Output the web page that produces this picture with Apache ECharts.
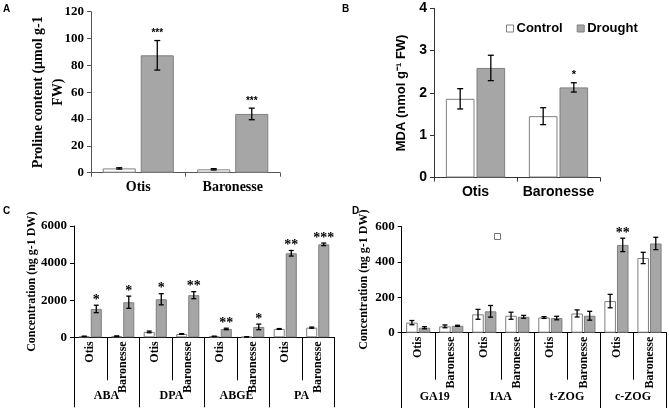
<!DOCTYPE html>
<html>
<head>
<meta charset="utf-8">
<script src="https://cdn.jsdelivr.net/npm/echarts@6/dist/echarts.min.js"></script>
<style>html,body{margin:0;padding:0;background:#fff}#c{width:669px;height:408px}</style>
</head>
<body>
<div id="c"></div>
<script>
// ---- Panel A: proline ----
const aCultivars = ['Otis', 'Baronesse'];
const aControl = [3.2, 2.5];
const aControlErr = [0.5, 0.5];
const aDrought = [87.5, 43.8];
const aDroughtErr = [11, 4.3];
const aSig = ['***', '***'];
const aTicks = [0, 120, 20];

// ---- Panel B: MDA ----
const bCultivars = ['Otis', 'Baronesse'];
const bControl = [1.86, 1.45];
const bControlErr = [0.24, 0.2];
const bDrought = [2.59, 2.13];
const bDroughtErr = [0.3, 0.11];
const bSig = ['', '*'];
const bTicks = [0, 4, 1];

// ---- Panel C: ABA metabolites ----
const cGroups = ['ABA', 'DPA', 'ABGE', 'PA'];
const cSub = ['Otis', 'Baronesse', 'Otis', 'Baronesse', 'Otis', 'Baronesse', 'Otis', 'Baronesse'];
const cControl = [50, 60, 290, 180, 50, 20, 450, 520];
const cControlErr = [10, 15, 45, 20, 10, 5, 20, 30];
const cDrought = [1530, 1890, 2050, 2270, 450, 560, 4530, 5010];
const cDroughtErr = [200, 330, 300, 190, 40, 150, 150, 70];
const cSig = ['*', '*', '*', '**', '**', '*', '**', '***'];
const cTicks = [0, 6000, 2000];

// ---- Panel D: other hormones ----
const dGroups = ['GA19', 'IAA', 't-ZOG', 'c-ZOG'];
const dSub = ['Otis', 'Baronesse', 'Otis', 'Baronesse', 'Otis', 'Baronesse', 'Otis', 'Baronesse'];
const dControl = [57, 36, 104, 96, 86, 109, 179, 423];
const dControlErr = [12, 8, 28, 20, 5, 20, 38, 32];
const dDrought = [28, 39, 121, 90, 83, 96, 497, 505];
const dDroughtErr = [6, 3, 33, 8, 10, 25, 38, 35];
const dSig = ['', '', '', '', '', '', '**', ''];
const dTicks = [0, 600, 200];

const SERIF = '"Liberation Serif","Times New Roman",serif';
const SANS = '"Liberation Sans",Arial,sans-serif';
const CTRL_FILL = '#ffffff', DRT_FILL = '#a6a6a6', BORDER = '#7f7f7f';

function errRenderer(values, errs, sig, side, barPct, gapPct, capHalf, starFont, starGap) {
  return function (params, api) {
    const i = params.dataIndex;
    const v = values[i], e = errs[i];
    const band = api.size([1, 0])[0];
    const bw = band * barPct;
    const off = side * bw * (1 + gapPct) / 2;
    const c = api.coord([i, v]);
    const t = api.coord([i, v + e]);
    const b = api.coord([i, Math.max(0, v - e)]);
    const x = c[0] + off;
    const st = { stroke: '#000', lineWidth: 1.3 };
    const ch = [
      { type: 'line', shape: { x1: x, y1: t[1], x2: x, y2: b[1] }, style: st },
      { type: 'line', shape: { x1: x - capHalf, y1: t[1], x2: x + capHalf, y2: t[1] }, style: st },
      { type: 'line', shape: { x1: x - capHalf, y1: b[1], x2: x + capHalf, y2: b[1] }, style: st }
    ];
    if (sig && sig[i]) {
      ch.push({ type: 'text', style: { text: sig[i], x: x, y: t[1] - starGap, textAlign: 'center', textVerticalAlign: 'bottom', font: starFont, fill: '#000' } });
    }
    return { type: 'group', children: ch };
  };
}

function panelSeries(xi, yi, ctrl, ctrlErr, drt, drtErr, sig, barPct, gapPct, capHalf, starFont, starGap) {
  const bw = (barPct * 100) + '%', bg = (gapPct * 100) + '%';
  return [
    { name: 'Control', type: 'bar', xAxisIndex: xi, yAxisIndex: yi, data: ctrl, barWidth: bw, barGap: bg,
      itemStyle: { color: CTRL_FILL, borderColor: BORDER, borderWidth: 1 }, silent: true, animation: false },
    { name: 'Drought', type: 'bar', xAxisIndex: xi, yAxisIndex: yi, data: drt, barWidth: bw, barGap: bg,
      itemStyle: { color: DRT_FILL, borderColor: BORDER, borderWidth: 1 }, silent: true, animation: false },
    { type: 'custom', xAxisIndex: xi, yAxisIndex: yi, data: ctrl.map((v, i) => [i, v]), z: 5, silent: true, animation: false,
      renderItem: errRenderer(ctrl, ctrlErr, null, -1, barPct, gapPct, capHalf, starFont, starGap) },
    { type: 'custom', xAxisIndex: xi, yAxisIndex: yi, data: drt.map((v, i) => [i, v]), z: 5, silent: true, animation: false,
      renderItem: errRenderer(drt, drtErr, sig, 1, barPct, gapPct, capHalf, starFont, starGap) }
  ];
}

// divider lines of the two-level category axis, placed by the strip grid's category scale
function dividerSeries(xi, yi, sub) {
  return { type: 'custom', xAxisIndex: xi, yAxisIndex: yi, data: sub.map((s, i) => [i, 0]), silent: true, animation: false, z: 6,
    renderItem: function (params, api) {
      const i = params.dataIndex;
      const band = api.size([1, 0])[0];
      const p0 = api.coord([i, 0]);
      const p1 = api.coord([i, 1]);
      const x = Math.round(p0[0] + band / 2) + 0.5;
      return { type: 'line', shape: { x1: x, y1: p1[1], x2: x, y2: p0[1] }, style: { stroke: '#000', lineWidth: 1 } };
    } };
}

function yAx(grid, ticks, font, size, color, name, nameGap, nameSize, lineH) {
  return {
    type: 'value', gridIndex: grid, min: ticks[0], max: ticks[1], interval: ticks[2],
    splitLine: { show: false },
    axisLine: { show: true, lineStyle: { color: color, width: 1 } },
    axisTick: { show: true, length: 4, lineStyle: { color: color } },
    axisLabel: { fontFamily: font, fontWeight: 'bold', fontSize: size, color: '#000', margin: 7,
      formatter: function (v) { return String(v); } },
    name: name, nameLocation: 'middle', nameGap: nameGap, nameMoveOverlap: false,
    nameTextStyle: { fontFamily: font, fontWeight: 'bold', fontSize: nameSize, color: '#000', lineHeight: lineH }
  };
}

function subAx(grid, sub) {
  return { type: 'category', gridIndex: grid, data: sub, position: 'bottom',
    axisLine: { show: true, onZero: false, lineStyle: { color: '#000' } },
    axisTick: { show: false },
    axisLabel: { show: true, rotate: 90, interval: 0, fontFamily: SERIF, fontWeight: 'bold', fontSize: 12, color: '#000', margin: 4 } };
}
function stripAx(grid, groups, sub) {
  return { type: 'category', gridIndex: grid, data: sub.map((s, i) => groups[Math.floor(i / 2)] + ' ' + s),
    axisLine: { show: false }, axisTick: { show: false }, axisLabel: { show: false }, splitLine: { show: false } };
}
function groupAx(grid, data, tickLen, margin) {
  return { type: 'category', gridIndex: grid, data: data, position: 'bottom', offset: 0,
    axisLine: { show: true, onZero: false, lineStyle: { color: '#000' } },
    axisTick: { show: true, length: tickLen, interval: 0, lineStyle: { color: '#000' } },
    axisLabel: { show: true, interval: 0, fontFamily: SERIF, fontWeight: 'bold', fontSize: 12, color: '#000', margin: margin } };
}
function hiddenY(grid) {
  return { type: 'value', gridIndex: grid, show: false, min: 0, max: 1, splitLine: { show: false } };
}

const chart = echarts.init(document.getElementById('c'), null, { renderer: 'canvas' });
const option = {
  backgroundColor: '#fff',
  animation: false,
  grid: [
    { left: 91, top: 11.7, width: 189, height: 161 },
    { left: 434, top: 8.3, width: 166, height: 169.2 },
    { left: 74, top: 226, width: 260, height: 111.3 },
    { left: 401.7, top: 226.7, width: 264.3, height: 106 },
    { left: 74, top: 337.3, width: 260, height: 43 },
    { left: 401.7, top: 332.7, width: 264.3, height: 47 }
  ],
  legend: {
    data: [
      { name: 'Control', itemStyle: { color: CTRL_FILL, borderColor: BORDER, borderWidth: 1 } },
      { name: 'Drought', itemStyle: { color: DRT_FILL, borderColor: BORDER, borderWidth: 1 } }
    ],
    left: 501, top: 17, itemWidth: 7, itemHeight: 7, itemGap: 14, icon: 'rect',
    textStyle: { fontFamily: SANS, fontWeight: 'bold', fontSize: 13, color: '#000', padding: [0, 0, 0, -2] },
    selectedMode: false
  },
  xAxis: [
    { type: 'category', gridIndex: 0, data: aCultivars,
      axisLine: { lineStyle: { color: '#555' } }, axisTick: { show: true, length: 4, lineStyle: { color: '#555' } },
      axisLabel: { interval: 0, fontFamily: SERIF, fontWeight: 'bold', fontSize: 14, color: '#000', margin: 8 } },
    { type: 'category', gridIndex: 1, data: bCultivars,
      axisLine: { lineStyle: { color: '#333' } }, axisTick: { show: true, length: 4, lineStyle: { color: '#333' } },
      axisLabel: { interval: 0, hideOverlap: false, fontFamily: SANS, fontWeight: 'bold', fontSize: 14, color: '#000', margin: 8 } },
    subAx(2, cSub),
    groupAx(2, cGroups, 70, 53),
    subAx(3, dSub),
    groupAx(3, dGroups, 76, 58),
    stripAx(4, cGroups, cSub),
    stripAx(5, dGroups, dSub)
  ],
  yAxis: [
    yAx(0, aTicks, SERIF, 13, '#555', 'Proline content (μmol g-1\nFW)', 23, 14, 20),
    yAx(1, bTicks, SANS, 14, '#333', 'MDA (nmol g\u207B\u00B9 FW)', 25, 13, 16),
    yAx(2, cTicks, SERIF, 13, '#000', 'Concentration (ng g-1 DW)', 35, 12, 14),
    yAx(3, dTicks, SERIF, 13, '#000', 'Concentration (ng g-1 DW)', 31, 12, 14),
    hiddenY(4),
    hiddenY(5)
  ],
  series: [].concat(
    panelSeries(0, 0, aControl, aControlErr, aDrought, aDroughtErr, aSig, 0.35, 0.15, 3, 'bold 10px ' + SANS, 2),
    panelSeries(1, 1, bControl, bControlErr, bDrought, bDroughtErr, bSig, 0.345, 0.07, 3, 'bold 11px ' + SANS, 2),
    panelSeries(2, 2, cControl, cControlErr, cDrought, cDroughtErr, cSig, 0.34, 0.09, 2.5, 'bold 14px ' + SERIF, -2),
    panelSeries(4, 3, dControl, dControlErr, dDrought, dDroughtErr, dSig, 0.35, 0.09, 2.5, 'bold 14px ' + SERIF, -2),
    [dividerSeries(6, 4, cSub), dividerSeries(7, 5, dSub)]
  ),
  graphic: [
    { type: 'text', left: 3, top: 4, style: { text: 'A', font: 'bold 10px ' + SANS, fill: '#000' } },
    { type: 'text', left: 342, top: 4, style: { text: 'B', font: 'bold 10px ' + SANS, fill: '#000' } },
    { type: 'text', left: 3, top: 206, style: { text: 'C', font: 'bold 10px ' + SANS, fill: '#000' } },
    { type: 'text', left: 352, top: 206, style: { text: 'D', font: 'bold 10px ' + SANS, fill: '#000' } },
    { type: 'rect', left: 494, top: 233, shape: { width: 6, height: 6 }, style: { fill: '#fff', stroke: '#777', lineWidth: 1 } }
  ]
};
chart.setOption(option);
</script>
</body>
</html>
